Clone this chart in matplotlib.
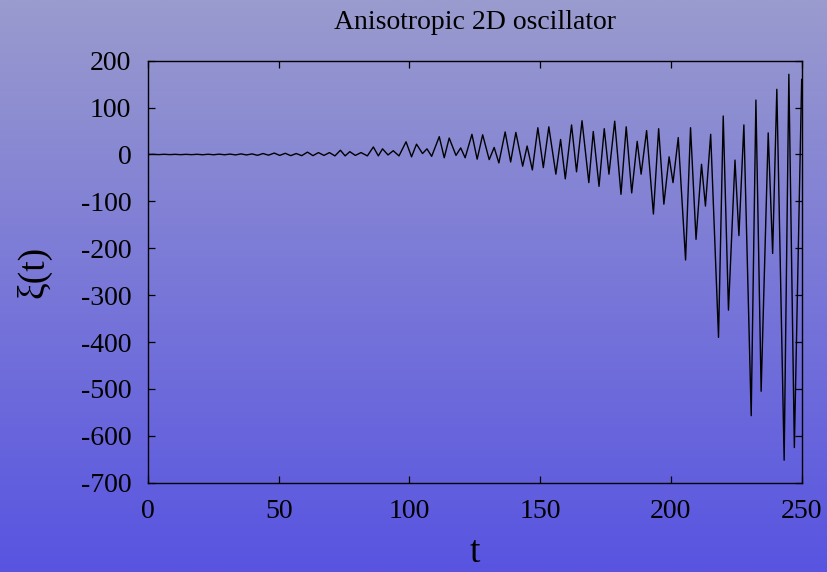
import numpy as np
import matplotlib
matplotlib.use('Agg')
import matplotlib.pyplot as plt
from matplotlib.colors import LinearSegmentedColormap

plt.rcParams['font.family'] = ['Liberation Serif', 'DejaVu Serif']
plt.rcParams['axes.unicode_minus'] = False

# extrema of xi(t)
t_pts = [0.0, 2.0, 4.1, 6.2, 8.3, 10.4, 12.5, 14.6, 16.7, 18.8, 20.9, 23.0, 25.1, 27.2,
         29.3, 31.4, 33.5, 35.6, 37.7, 39.8, 41.9, 44.0, 46.1, 48.3, 50.4, 52.5, 54.6,
         56.7, 58.8, 61.0, 63.1, 65.2, 67.3, 69.4, 71.5, 73.6, 75.4, 77.2, 79.3, 81.5,
         83.9, 86.2, 88.1, 89.7, 91.8, 93.8, 96.0, 98.7, 100.8, 102.7, 105.0, 106.7,
         108.5, 111.4, 113.3, 115.2, 117.8, 119.6, 121.3, 123.9, 125.9, 128.0, 130.5,
         132.4, 134.2, 136.6, 138.7, 140.7, 143.3, 145.0, 147.0, 149.1, 151.2, 153.3,
         156.0, 157.8, 159.6, 162.0, 163.9, 166.0, 168.6, 170.3, 172.5, 174.5, 176.3,
         178.5, 180.9, 182.9, 185.0, 187.1, 188.6, 190.7, 193.3, 195.3, 197.3, 199.3,
         200.8, 202.8, 205.6, 207.5, 209.6, 211.7, 213.2, 215.2, 218.2, 220.0, 222.0,
         224.5, 226.0, 227.9, 230.7, 232.5, 234.5, 237.2, 238.9, 240.5, 243.3, 245.1,
         247.2, 250.0]
xi_pts = [0, 0.3, -0.3, 0.4, -0.3, 0.3, -0.4, 0.3, -0.4, 0.4, -0.6, 0.5, -0.6, 0.7,
          -0.6, 0.8, -0.9, 1.2, -1, 1.2, -1.8, 2, -1.5, 3, -2, 2.5, -2.5,
          2, -2.5, 5, -2.5, 4, -2, 4, -3, 9, -3, 6, -2, 4,
          -3, 16, -3, 12, -1, 8, -3, 27, -5, 22, 2, 12,
          -4, 38, -7, 35, -2, 14, -7, 43, -10, 42, -11,
          15, -18, 48, -16, 47, -25, 18, -33, 57, -28, 59,
          -42, 32, -52, 63, -37, 72, -60, 49, -68, 55, -42,
          71, -85, 59, -82, 28, -42, 51, -127, 55, -106, -5,
          -60, 36, -225, 57, -181, -21, -110, 43, -390, 82, -332,
          -12, -173, 63, -557, 116, -505, 46, -211, 139, -652, 171,
          -625, 160]

x_ticks = [0, 50, 100, 150, 200, 250]
y_ticks = [200, 100, 0, -100, -200, -300, -400, -500, -600, -700]

fig = plt.figure(figsize=(8.28, 5.72), dpi=100)

# gradient background over the whole figure
bg = fig.add_axes([0, 0, 1, 1], zorder=0)
cmap = LinearSegmentedColormap.from_list('bg', ['#9a9bce', '#5854e1'])
bg.imshow(np.linspace(0, 1, 256).reshape(-1, 1), aspect='auto', cmap=cmap,
          extent=[0, 1, 0, 1])
bg.set_axis_off()

ax = fig.add_axes([0.1787, 0.1561, 0.7895, 0.7378], zorder=1)
ax.patch.set_alpha(0)
ax.plot(t_pts, xi_pts, color='black', lw=1.0, solid_joinstyle='round')

ax.set_xlim(0, 250)
ax.set_ylim(-700, 200)
ax.set_xticks(x_ticks)
ax.set_yticks(y_ticks)
ax.tick_params(direction='in', length=5, width=0.9, labelsize=20,
               top=True, right=True, pad=12)
for s in ax.spines.values():
    s.set_linewidth(1.0)

ax.set_title('Anisotropic 2D oscillator', fontsize=20, pad=23)
ax.set_xlabel('t', fontsize=27, labelpad=8)
ax.set_ylabel('ξ(t)', fontsize=27, labelpad=21)

fig.savefig('out.png', dpi=100)
